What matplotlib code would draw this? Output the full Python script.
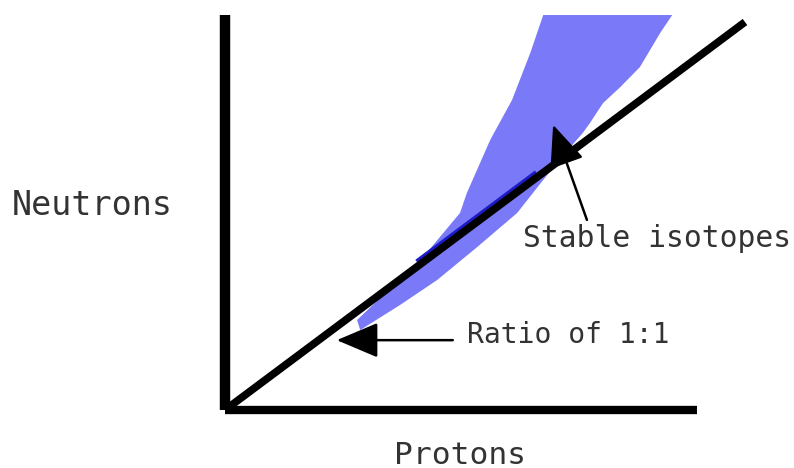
import matplotlib
matplotlib.use("Agg")
import matplotlib.pyplot as plt

# Schematic data (Z = protons, N = neutrons, arbitrary units 0-100)
ratio_z = [0, 100]
ratio_n = [0, 100]

band_z = [25.4, 38.1, 45.2, 46.5, 51.0, 55.2, 58.7, 61.2,
          86.0, 83.7, 79.8, 76.0, 72.7, 70.2, 68.8, 67.3, 63.5,
          61.2, 56.2, 48.5, 40.8, 33.7, 26.0]
band_n = [23.2, 39.4, 50.8, 55.9, 69.6, 79.9, 92.0, 101.8,
          101.8, 97.2, 88.4, 83.2, 79.1, 74.0, 71.4, 69.1, 63.1,
          59.3, 50.8, 42.0, 33.5, 27.1, 20.6]

dark_z = [37, 60]
dark_n = [38.0, 61.0]

axis_x_end = 90.8
axis_y_end = 101.8

x_label = "Protons"
y_label = "Neutrons"
stable_label = "Stable isotopes"
ratio_label = "Ratio of 1:1"

W, H = 794, 468
fig = plt.figure(figsize=(W / 100, H / 100), dpi=100)
ax = fig.add_axes([225 / W, (H - 410) / H, 520 / W, 388 / H])
ax.set_xlim(0, 100)
ax.set_ylim(0, 100)
ax.axis("off")

# stable band
ax.fill(band_z, band_n, color="#7a7af8", lw=0, clip_on=False, zorder=1)
ax.plot(dark_z, dark_n, color="#1c1cc8", lw=5, clip_on=False, zorder=2,
        solid_capstyle="butt")

# axes lines
ax.plot([0, 0], [0, axis_y_end], color="black", lw=7.5, clip_on=False,
        solid_capstyle="butt", zorder=3)
ax.plot([0, axis_x_end], [0, 0], color="black", lw=6, clip_on=False,
        solid_capstyle="butt", zorder=3)

# 1:1 line
ax.plot(ratio_z, ratio_n, color="black", lw=5.5, clip_on=False,
        solid_capstyle="butt", zorder=4)

font = "DejaVu Sans Mono"
tc = "#333333"

ax.text(-25.6, 52.8, y_label, ha="center", va="center", fontsize=24,
        family=font, color=tc)
ax.text(45.2, -11.6, x_label, ha="center", va="center", fontsize=22.5,
        family=font, color=tc)

ax.text(57.3, 44.3, stable_label, ha="left", va="center", fontsize=21.3,
        family=font, color=tc)
ax.annotate("", xy=(63.1, 73.5), xytext=(69.6, 49.0),
            arrowprops=dict(arrowstyle="-|>,head_length=1.3,head_width=0.55",
                            mutation_scale=20, lw=1.8, color="black",
                            shrinkA=0, shrinkB=0), zorder=5)

ax.text(46.5, 19.3, ratio_label, ha="left", va="center", fontsize=20.2,
        family=font, color=tc)
ax.annotate("", xy=(21.5, 18.0), xytext=(43.8, 18.0),
            arrowprops=dict(arrowstyle="-|>,head_length=1.3,head_width=0.55",
                            mutation_scale=20, lw=1.8, color="black",
                            shrinkA=0, shrinkB=0), zorder=5)

fig.savefig("out.png", dpi=100)
